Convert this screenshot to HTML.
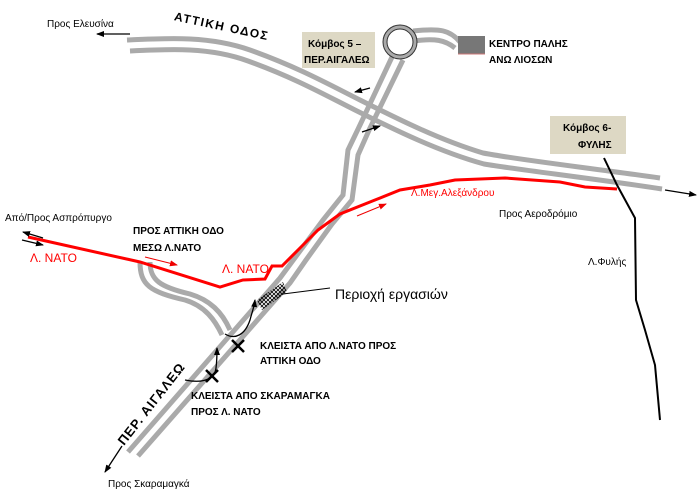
<!DOCTYPE html>
<html><head><meta charset="utf-8"><style>
body{margin:0;background:#fff}
svg{display:block}
text{font-family:"Liberation Sans","DejaVu Sans",sans-serif}
</style></head><body>
<svg width="700" height="504" viewBox="0 0 700 504" xmlns="http://www.w3.org/2000/svg">
<defs>
<marker id="ah" markerWidth="8" markerHeight="8" refX="7" refY="4" orient="auto" markerUnits="userSpaceOnUse"><path d="M0,1 L8,4 L0,7 z" fill="#000"/></marker>
<marker id="ahr" markerWidth="8" markerHeight="8" refX="7" refY="4" orient="auto" markerUnits="userSpaceOnUse"><path d="M0,1 L8,4 L0,7 z" fill="#e00"/></marker>
<pattern id="hatch" width="4" height="4" patternUnits="userSpaceOnUse"><path d="M0,0 L4,4 M4,0 L0,4" stroke="#000" stroke-width="0.8"/></pattern>
</defs>
<g fill="none" stroke="#aaa" stroke-width="5">
<path d="M127,40 C170,38 210,36 250,50 C300,68 330,85 360,100 C400,120 440,140 483,153 C520,160 590,168 660,178"/>
<path d="M130,51 C170,49 210,47 248,61 C295,78 325,95 355,110 C395,130 440,152 484,164 C520,170 590,178 662,189"/>
<path d="M392,57 L360,125 L348,150 L343,195 L323,220 L297,255 L280,278 L128,452"/>
<path d="M403,60 L370,128 L358,155 L352,200 L332,224 L306,260 L290,283 L138,456"/>
<path d="M413,31 C440,28 450,30 460,42"/>
<path d="M413,41 C435,38 445,40 455,48"/>
<path d="M140,262 C140,285 150,292 185,300 C205,306 215,320 222,335"/>
<path d="M150,262 C150,280 160,287 190,294 C210,300 222,312 230,330"/>
</g>
<circle cx="400" cy="42" r="15" fill="#fff" stroke="#aaa" stroke-width="4"/>
<circle cx="400" cy="42" r="17" fill="none" stroke="#333" stroke-width="1"/>
<circle cx="400" cy="42" r="13" fill="none" stroke="#333" stroke-width="1"/>
<rect x="458" y="36" width="27" height="18" fill="#777"/>
<line x1="458" y1="54" x2="485" y2="54" stroke="#c77" stroke-width="1"/>
<path d="M28,237 L140,262 L220,287 L243,280 L265,279 L272,266 L282,266 L300,248 L318,230 L340,214 L375,200 L400,190 L430,185 L455,180 L505,178 L560,182 L585,187 L617,189" fill="none" stroke="#f00" stroke-width="3"/>
<line x1="145" y1="257" x2="177" y2="265" stroke="#e00" stroke-width="1" marker-end="url(#ahr)"/>
<line x1="357" y1="216" x2="386" y2="204" stroke="#e00" stroke-width="1" marker-end="url(#ahr)"/>
<path d="M257,300 L283,282 L287,292 L262,310 z" fill="url(#hatch)"/>
<line x1="283" y1="294" x2="330" y2="288" stroke="#000" stroke-width="1"/>
<path d="M604,158 L617,185 L635,218 L636,300 L645,330 L655,365 L660,420" fill="none" stroke="#000" stroke-width="2"/>
<g stroke="#000" stroke-width="1.3" fill="none">
<line x1="130" y1="34" x2="97" y2="34" marker-end="url(#ah)"/>
<line x1="665" y1="190" x2="696" y2="195" marker-end="url(#ah)"/>
<line x1="370" y1="88" x2="355" y2="92" marker-end="url(#ah)"/>
<line x1="362" y1="132" x2="380" y2="126" marker-end="url(#ah)"/>
<line x1="43" y1="238" x2="23" y2="232" marker-end="url(#ah)"/>
<line x1="22" y1="240" x2="43" y2="245" marker-end="url(#ah)"/>
<line x1="122" y1="446" x2="105" y2="472" marker-end="url(#ah)"/>
<path d="M225,334 C235,340 245,335 250,320 C252,312 254,308 255,300" marker-end="url(#ah)"/>
<path d="M185,380 C205,384 215,378 216,368 C217,360 217,355 217,348" marker-end="url(#ah)"/>
</g>
<g stroke="#000" stroke-width="2.5">
<line x1="232" y1="340" x2="244" y2="352"/><line x1="244" y1="340" x2="232" y2="352"/>
<line x1="206" y1="370" x2="218" y2="382"/><line x1="218" y1="370" x2="206" y2="382"/>
</g>
<rect x="302" y="32" width="73" height="36" fill="#ddd8c4"/>
<rect x="550" y="116" width="76" height="38" fill="#ddd8c4"/>
<g font-size="10" fill="#000">
<text x="47" y="27">Προς Ελευσίνα</text>
<text x="308" y="47" font-weight="bold">Κόμβος 5 –</text>
<text x="304" y="63" font-weight="bold">ΠΕΡ.ΑΙΓΑΛΕΩ</text>
<text x="489" y="47" font-weight="bold">ΚΕΝΤΡΟ ΠΑΛΗΣ</text>
<text x="489" y="63" font-weight="bold">ΑΝΩ ΛΙΟΣΩΝ</text>
<text x="563" y="131" font-weight="bold">Κόμβος 6-</text>
<text x="578" y="148" font-weight="bold">ΦΥΛΗΣ</text>
<text x="499" y="217">Προς Αεροδρόμιο</text>
<text x="588" y="265">Λ.Φυλής</text>
<text x="5" y="221">Από/Προς Ασπρόπυργο</text>
<text x="133" y="234" font-weight="bold">ΠΡΟΣ ΑΤΤΙΚΗ ΟΔΟ</text>
<text x="133" y="251" font-weight="bold">ΜΕΣΩ Λ.ΝΑΤΟ</text>
<text x="260" y="349" font-weight="bold">ΚΛΕΙΣΤΑ ΑΠΟ Λ.ΝΑΤΟ ΠΡΟΣ</text>
<text x="260" y="364" font-weight="bold">ΑΤΤΙΚΗ ΟΔΟ</text>
<text x="191" y="399" font-weight="bold">ΚΛΕΙΣΤΑ  ΑΠΟ ΣΚΑΡΑΜΑΓΚΑ</text>
<text x="191" y="415" font-weight="bold">ΠΡΟΣ Λ. ΝΑΤΟ</text>
<text x="108" y="487">Προς Σκαραμαγκά</text>
</g>
<text x="173" y="30" font-size="12" font-weight="bold" letter-spacing="1.5" transform="rotate(12 220 28)">ΑΤΤΙΚΗ ΟΔΟΣ</text>
<text x="30" y="262" font-size="12" fill="#f00">Λ. ΝΑΤΟ</text>
<text x="222" y="273" font-size="12" fill="#f00">Λ. ΝΑΤΟ</text>
<text x="411" y="196" font-size="10" fill="#f00">Λ.Μεγ.Αλεξάνδρου</text>
<text x="335" y="299" font-size="14">Περιοχή εργασιών</text>
<text x="0" y="0" font-size="13" font-weight="bold" letter-spacing="1" transform="translate(124,446) rotate(-52)">ΠΕΡ. ΑΙΓΑΛΕΩ</text>
</svg>
</body></html>
